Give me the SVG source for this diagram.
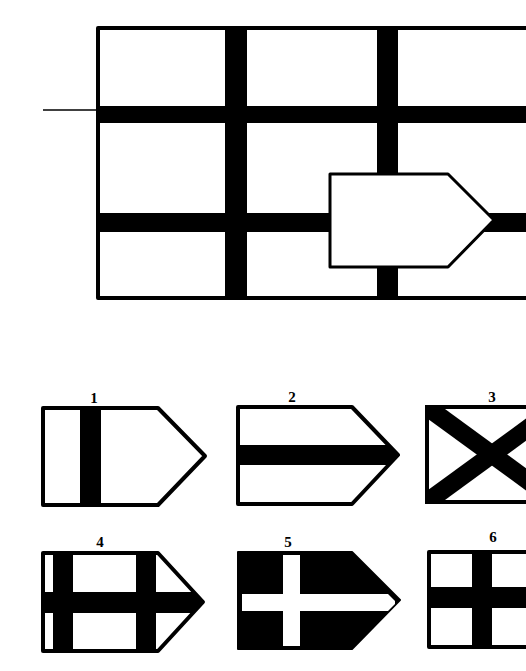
<svg xmlns="http://www.w3.org/2000/svg" width="526" height="671" viewBox="0 0 526 671">
<defs>
<style>
.o{fill:#fff;stroke:#000;stroke-width:4;stroke-linejoin:round}
.b{fill:#000}
.w{fill:#fff}
.lbl{font-family:"Liberation Serif",serif;font-weight:bold;font-size:15px;fill:#000;text-anchor:middle}
</style>
<clipPath id="c3"><rect x="427" y="407" width="130" height="95"/></clipPath>
</defs>
<rect width="526" height="671" fill="#fff"/>
<g id="main">
<rect class="o" x="98" y="28" width="520" height="270"/>
<rect class="b" x="225" y="28" width="22" height="270"/>
<rect class="b" x="377" y="28" width="21" height="270"/>
<rect class="b" x="98" y="106" width="440" height="17"/>
<rect class="b" x="98" y="213" width="440" height="19"/>
<polygon class="o" style="stroke-width:3" points="330,174 448,174 494,220 448,267 330,267"/>
<line x1="43" y1="110" x2="98" y2="110" stroke="#000" stroke-width="1.5"/>
</g>
<g id="flag1">
<polygon class="o" points="43,408 158,408 205,456 158,505 43,505"/>
<rect class="b" x="80" y="408" width="21" height="97"/>
<text class="lbl" x="94" y="403">1</text>
</g>
<g id="flag2">
<polygon class="o" points="238,407 352,407 398,455 352,504 238,504"/>
<polygon class="b" points="238,445 388,445 398,455 388,465 238,465"/>
<text class="lbl" x="292" y="402">2</text>
</g>
<g id="flag3">
<rect class="o" x="427" y="407" width="130" height="95"/>
<g clip-path="url(#c3)" stroke="#000" stroke-width="18">
<line x1="427" y1="407" x2="557" y2="502"/>
<line x1="427" y1="502" x2="557" y2="407"/>
</g>
<rect x="427" y="407" width="130" height="95" fill="none" stroke="#000" stroke-width="4"/>
<text class="lbl" x="492" y="402">3</text>
</g>
<g id="flag4">
<polygon class="o" points="43,553 158,553 203,602 158,651 43,651"/>
<rect class="b" x="53" y="553" width="20" height="98"/>
<rect class="b" x="136" y="553" width="20" height="98"/>
<polygon class="b" points="43,592 193,592 203,602 192,613 43,613"/>
<text class="lbl" x="100" y="547">4</text>
</g>
<g id="flag5">
<polygon class="b" stroke="#000" stroke-width="2" stroke-linejoin="round" points="238,552 352,552 400,600 352,649 238,649"/>
<rect class="w" x="283" y="555" width="17" height="91"/>
<polygon class="w" points="242,594 388,594 395,601 395,604 388,611 242,611"/>
<text class="lbl" x="288" y="547">5</text>
</g>
<g id="flag6">
<rect class="o" x="429" y="552" width="130" height="95"/>
<rect class="b" x="472" y="552" width="20" height="95"/>
<rect class="b" x="429" y="587" width="130" height="21"/>
<text class="lbl" x="493" y="542">6</text>
</g>
</svg>
